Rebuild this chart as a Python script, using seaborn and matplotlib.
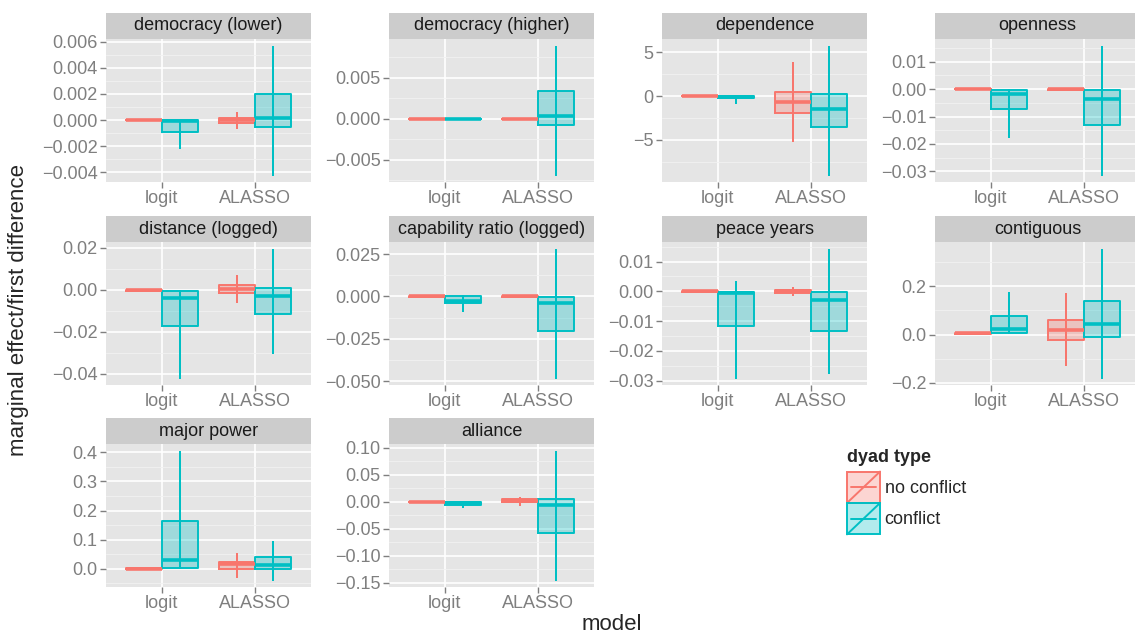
import numpy as np
import pandas as pd
import matplotlib
matplotlib.use("Agg")
import matplotlib.pyplot as plt
from matplotlib.patches import Rectangle
from matplotlib.lines import Line2D
import seaborn as sns

# ---------------- data ----------------
panels = ["democracy (lower)", "democracy (higher)", "dependence", "openness",
          "distance (logged)", "capability ratio (logged)", "peace years", "contiguous",
          "major power", "alliance"]
models = ["logit", "ALASSO"]
dyads = ["no conflict", "conflict"]
# rows: logit/no conflict, logit/conflict, ALASSO/no conflict, ALASSO/conflict
# cols: lower whisker, lower hinge, median, upper hinge, upper whisker
democracy_lower = [[-0.00004, -0.00002, 0.0, 0.00002, 0.00004],
                   [-0.00217, -0.00093, -0.0001, -0.00001, 0.0],
                   [-0.00067, -0.00023, -0.00002, 0.00019, 0.0006],
                   [-0.00423, -0.00051, 0.00013, 0.00202, 0.0057]]
democracy_higher = [[-0.00003, -0.00001, 0.0, 0.00001, 0.00003],
                    [-0.00004, -0.00002, 0.0, 0.00002, 0.00004],
                    [-0.00003, -0.00001, 0.0, 0.00001, 0.00003],
                    [-0.0069, -0.00082, 0.00032, 0.0034, 0.0089]]
dependence = [[-0.05, -0.02, 0.0, 0.02, 0.05],
              [-0.89, -0.25, -0.15, -0.03, 0.0],
              [-5.27, -1.88, -0.65, 0.5, 3.9],
              [-9.08, -3.5, -1.46, 0.23, 5.8]]
openness = [[-0.0002, -0.0001, 0.0, 0.0001, 0.0002],
            [-0.0177, -0.0073, -0.0018, -0.0004, -0.0001],
            [-0.0008, -0.0002, 0.0, 0.0002, 0.0004],
            [-0.0315, -0.013, -0.0037, -0.0004, 0.0159]]
distance = [[-0.0006, -0.0004, -0.0002, 0.0, 0.0001],
            [-0.0423, -0.0174, -0.0038, -0.0008, 0.0],
            [-0.0064, -0.0016, 0.0003, 0.0021, 0.0072],
            [-0.0308, -0.0118, -0.0029, 0.001, 0.0196]]
capability = [[-0.0003, -0.0001, 0.0, 0.0001, 0.0003],
              [-0.0089, -0.004, -0.0024, 0.0001, 0.0002],
              [-0.0005, -0.0002, 0.0, 0.0002, 0.0005],
              [-0.0484, -0.0201, -0.004, -0.0004, 0.0283]]
peace_years = [[-0.0002, -0.0001, 0.0, 0.0001, 0.0002],
               [-0.0293, -0.0117, -0.0004, -0.0001, 0.0036],
               [-0.0016, -0.0004, 0.0, 0.0004, 0.0013],
               [-0.0279, -0.0135, -0.0029, -0.0003, 0.0144]]
contiguous = [[0.001, 0.002, 0.005, 0.008, 0.009],
              [0.002, 0.008, 0.025, 0.077, 0.177],
              [-0.132, -0.021, 0.018, 0.059, 0.173],
              [-0.182, -0.008, 0.045, 0.138, 0.357]]
major_power = [[-0.001, 0.0, 0.001, 0.002, 0.003],
               [0.001, 0.002, 0.029, 0.165, 0.406],
               [-0.032, -0.001, 0.016, 0.022, 0.054],
               [-0.04, -0.001, 0.013, 0.039, 0.097]]
alliance = [[-0.001, -0.0005, 0.0, 0.0005, 0.001],
            [-0.0105, -0.0055, -0.003, -0.001, -0.0005],
            [-0.0075, -0.0006, 0.0025, 0.006, 0.0093],
            [-0.1455, -0.057, -0.0065, 0.005, 0.095]]
panel_values = [democracy_lower, democracy_higher, dependence, openness, distance,
                capability, peace_years, contiguous, major_power, alliance]

ytick_labels = [
    ["0.006", "0.004", "0.002", "0.000", "-0.002", "-0.004"],
    ["0.005", "0.000", "-0.005"],
    ["5", "0", "-5"],
    ["0.01", "0.00", "-0.01", "-0.02", "-0.03"],
    ["0.02", "0.00", "-0.02", "-0.04"],
    ["0.025", "0.000", "-0.025", "-0.050"],
    ["0.01", "0.00", "-0.01", "-0.02", "-0.03"],
    ["0.2", "0.0", "-0.2"],
    ["0.0", "0.1", "0.2", "0.3", "0.4"],
    ["0.10", "0.05", "0.00", "-0.05", "-0.10", "-0.15"],
]

palette = {"no conflict": "#F8766D", "conflict": "#00BFC4"}

# ---------------- long data ----------------
rows = []
for pname, vals in zip(panels, panel_values):
    k = 0
    for m in models:
        for d in dyads:
            for v in vals[k]:
                rows.append({"panel": pname, "model": m, "dyad type": d, "value": v})
            k += 1
df = pd.DataFrame(rows)

# ---------------- style ----------------
sns.set_style("white")
plt.rcParams["font.family"] = ["Liberation Sans", "DejaVu Sans"]
plt.rcParams["axes.unicode_minus"] = True

PANEL_BG = "#E5E5E5"
STRIP_BG = "#CCCCCC"
TICK_COL = "#7F7F7F"
LW = 1.4
FS = 13


def draw_boxes(data, **kws):
    ax = plt.gca()
    common = dict(data=data, x="model", y="value", hue="dyad type", order=models,
                  hue_order=dyads, palette=palette, width=0.77, whis=(0, 100),
                  showcaps=False, showfliers=False, legend=False, ax=ax, dodge=True)
    # full-range vertical lines (drawn under the translucent boxes)
    sns.boxplot(**common, fill=False, gap=0.995, linewidth=LW)
    n0 = len(ax.patches)
    sns.boxplot(**common, fill=True, linewidth=0, saturation=1)
    for p in ax.patches[n0:]:
        p.set_alpha(0.3)
    sns.boxplot(**common, fill=False, linewidth=LW,
                medianprops=dict(linewidth=2.6))


g = sns.FacetGrid(df, col="panel", col_order=panels, col_wrap=4,
                  sharex=False, sharey=False, height=2, aspect=1.4)
g.map_dataframe(draw_boxes)
g.set_titles("")
g.set_axis_labels("", "")

fig = g.figure
fig.set_size_inches(11.35, 6.36)
fig.set_dpi(100)
W, H = 1135.0, 636.0
col_left = [106, 389, 662, 935]
row_top = [39, 242, 444]
pw, ph = 205.0, 143.0
strip_h = 26.0

for i, ax in enumerate(g.axes.flat):
    r, c = divmod(i, 4)
    ax.set_position([col_left[c] / W, 1 - (row_top[r] + ph) / H, pw / W, ph / H])
    vals = np.array(panel_values[i])
    lo, hi = vals.min(), vals.max()
    rng = hi - lo
    ax.set_ylim(lo - 0.05 * rng, hi + 0.05 * rng)
    ax.set_xlim(-0.6, 1.6)
    ticks = [float(t) for t in ytick_labels[i]]
    ax.set_yticks(ticks)
    ax.set_yticklabels([t.replace("-", "\u2212") for t in ytick_labels[i]])
    st = sorted(ticks)
    step = st[1] - st[0]
    minors = [st[0] - step / 2] + [a + step / 2 for a in st]
    ylo, yhi = ax.get_ylim()
    minors = [m for m in minors if ylo < m < yhi]
    ax.set_yticks(minors, minor=True)
    ax.set_xticks([0, 1])
    ax.set_xticklabels(models)
    ax.set_facecolor(PANEL_BG)
    ax.set_axisbelow(True)
    ax.grid(which="major", color="white", linewidth=1.2)
    ax.grid(which="minor", axis="y", color="#F2F2F2", linewidth=0.6)
    for s in ax.spines.values():
        s.set_visible(False)
    ax.tick_params(which="major", length=4, width=1, color=TICK_COL,
                   labelcolor=TICK_COL, labelsize=FS, pad=2,
                   left=True, bottom=True)
    ax.tick_params(which="minor", length=0)
    ax.set_xlabel("")
    ax.set_ylabel("")
    # strip
    ax.add_patch(Rectangle((0, 1), 1, strip_h / ph, transform=ax.transAxes,
                           facecolor=STRIP_BG, edgecolor="none", clip_on=False))
    ax.text(0.5, 1 + strip_h / ph / 2, panels[i], transform=ax.transAxes,
            ha="center", va="center", fontsize=FS, color="#1A1A1A")

fig.text(612 / W, 1 - 624 / H, "model", ha="center", va="center", fontsize=16)
fig.text(19 / W, 1 - 310 / H, "marginal effect/first difference", ha="center",
         va="center", rotation=90, fontsize=16)


# ---------------- legend ----------------
class KeyHandle:
    def __init__(self, color):
        self.color = color


class KeyHandler:
    def legend_artist(self, legend, orig_handle, fontsize, handlebox):
        x0, y0 = -handlebox.xdescent, -handlebox.ydescent
        w, h = handlebox.width, handlebox.height
        tr = handlebox.get_transform()
        col = orig_handle.color
        rect = Rectangle((x0, y0), w, h, facecolor=matplotlib.colors.to_rgba(col, 0.3),
                         edgecolor=col, linewidth=LW, transform=tr)
        handlebox.add_artist(rect)
        handlebox.add_artist(Line2D([x0 + 0.12 * w, x0 + 0.88 * w], [y0 + h / 2, y0 + h / 2],
                                    color=col, linewidth=LW, transform=tr))
        handlebox.add_artist(Line2D([x0, x0 + w], [y0, y0 + h], color=col,
                                    linewidth=LW, transform=tr))
        return rect


handles = [KeyHandle(palette[d]) for d in dyads]
leg = fig.legend(handles, dyads, handler_map={KeyHandle: KeyHandler()},
                 loc="upper left", bbox_to_anchor=(847 / W, 1 - 449 / H),
                 frameon=False, title="dyad type", fontsize=FS,
                 title_fontproperties={"weight": "bold", "size": FS},
                 handlelength=1.83, handleheight=2.3, labelspacing=0.0,
                 handletextpad=0.25, borderpad=0, borderaxespad=0, alignment="left")
leg._legend_box.sep = 4

fig.savefig("out.png", dpi=100)
